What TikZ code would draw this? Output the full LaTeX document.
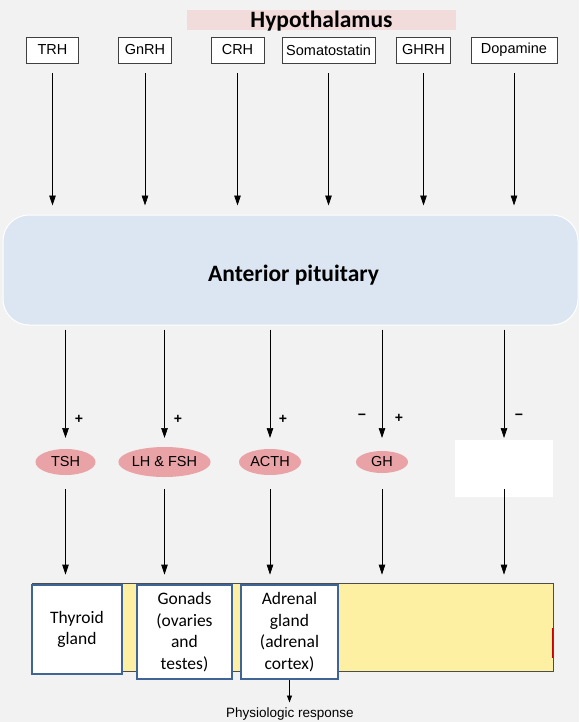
\documentclass[tikz,border=0pt]{standalone}
\usepackage{fontspec}
\setmainfont{Liberation Sans}
\newfontfamily\calibri{Carlito}
\usetikzlibrary{arrows.meta,shapes.geometric}
\definecolor{bgc}{HTML}{F2F2F2}
\definecolor{pinkbar}{HTML}{F2DCDB}
\definecolor{pitblue}{HTML}{DCE6F2}
\definecolor{hormfill}{HTML}{E9A2A5}
\definecolor{glandblue}{HTML}{3F6596}
\definecolor{yelfill}{HTML}{FDF0A2}
\begin{document}
\begin{tikzpicture}[x=1pt,y=-1pt,
  hbox/.style={draw=black!75, line width=0.7pt, fill=white, minimum height=26pt, inner sep=0pt, font=\fontsize{14.5}{16}\selectfont},
  horm/.style={ellipse, fill=hormfill, inner sep=0pt, font=\fontsize{14.5}{16}\selectfont},
  arr/.style={line width=0.7pt, -{Triangle[length=10pt,width=6.5pt]}},
  gland/.style={draw=glandblue, line width=1.8pt, fill=white, align=center, inner sep=0pt, font=\calibri\fontsize{17.5}{21.5}\selectfont},
  sign/.style={font=\bfseries\fontsize{14}{16}\selectfont, inner sep=0pt},
  bigtitle/.style={font=\calibri\bfseries\fontsize{23.5}{26}\selectfont, inner sep=0pt, anchor=base}
]
\useasboundingbox (0,0) rectangle (579,722);
\fill[bgc] (0,0) rectangle (579,722);

% Hypothalamus
\node[fill=pinkbar, minimum width=269pt, minimum height=20pt, inner sep=0pt] (hypbar) at (321.5,20) {};
\node[bigtitle] (hyp) at (321.5,27.5) {Hypothalamus};

% releasing hormones
\node[hbox, minimum width=52pt] (trh) at (52.5,50) {TRH};
\node[hbox, minimum width=53pt] (gnrh) at (145,50) {GnRH};
\node[hbox, minimum width=53pt] (crh) at (237.5,50) {CRH};
\node[hbox, minimum width=93pt] (som) at (328.5,50) {Somatostatin};
\node[hbox, minimum width=54pt] (ghrh) at (423.5,50) {GHRH};
\node[hbox, minimum width=86pt] (dop) at (514,50) {Dopamine};

% anterior pituitary
\node[rounded corners=26pt, fill=pitblue, draw=white, line width=1pt, minimum width=575pt, minimum height=110pt, inner sep=0pt] (pit) at (290.5,270) {};
\node[bigtitle] (pitlabel) at (293.5,281) {Anterior pituitary};

\foreach \n in {trh,gnrh,crh,som,ghrh,dop}
  \draw[arr, shorten <=10pt, shorten >=9pt] (\n.south) -- (\n.south |- pit.north);

% pituitary hormones
\node[horm, minimum width=60pt, minimum height=26pt] (tsh) at (65.5,462) {TSH};
\node[horm, minimum width=88pt, minimum height=30pt] (lhfsh) at (164.5,462) {LH \& FSH};
\node[horm, minimum width=62pt, minimum height=26pt] (acth) at (270,462) {ACTH};
\node[horm, minimum width=52pt, minimum height=22pt] (gh) at (382,462) {GH};
\node[fill=white, minimum width=98pt, minimum height=57pt, inner sep=0pt] (prl) at (504,468.5) {};

\coordinate (tipA) at (0,438);
\coordinate (lowstart) at (0,489);

% signs
\node[sign] (s1) at (79,419) {+};
\node[sign] (s2) at (178,419) {+};
\node[sign] (s3) at (283,419) {+};
\node[sign] (s4) at (362,417) {−};
\node[sign] (s5) at (399,418) {+};
\node[sign] (s6) at (519,417) {−};

% target glands
\node[draw=black!70, line width=0.7pt, fill=yelfill, minimum width=521pt, minimum height=88pt, inner sep=0pt] (yel) at (292.5,627) {};
\draw[red!80!black, line width=1pt] ([xshift=-1pt]yel.east |- 0,628) -- ([xshift=-1pt]yel.east |- 0,658);
\node[gland, minimum width=90pt, minimum height=89pt] (thy) at (77,629.5) {Thyroid\\gland};
\node[gland, minimum width=95pt, minimum height=94pt] (gon) at (184.5,632) {Gonads\\(ovaries\\and\\testes)};
\node[gland, minimum width=97pt, minimum height=94pt] (adr) at (289.5,632) {Adrenal\\gland\\(adrenal\\cortex)};

\foreach \n in {tsh,lhfsh,acth,gh,prl} {
  \draw[arr, shorten <=4pt] (\n |- pit.south) -- (\n |- tipA);
  \draw[arr, shorten >=8pt] (\n |- lowstart) -- (\n |- yel.north);
}

\node[font=\fontsize{13.5}{15}\selectfont, inner sep=0pt] (resp) at (290,714) {Physiologic response};
\draw[line width=0.7pt, -{Triangle[length=7pt,width=5pt]}, shorten >=5pt] (adr.south) -- (adr.south |- resp.north);
\end{tikzpicture}
\end{document}
